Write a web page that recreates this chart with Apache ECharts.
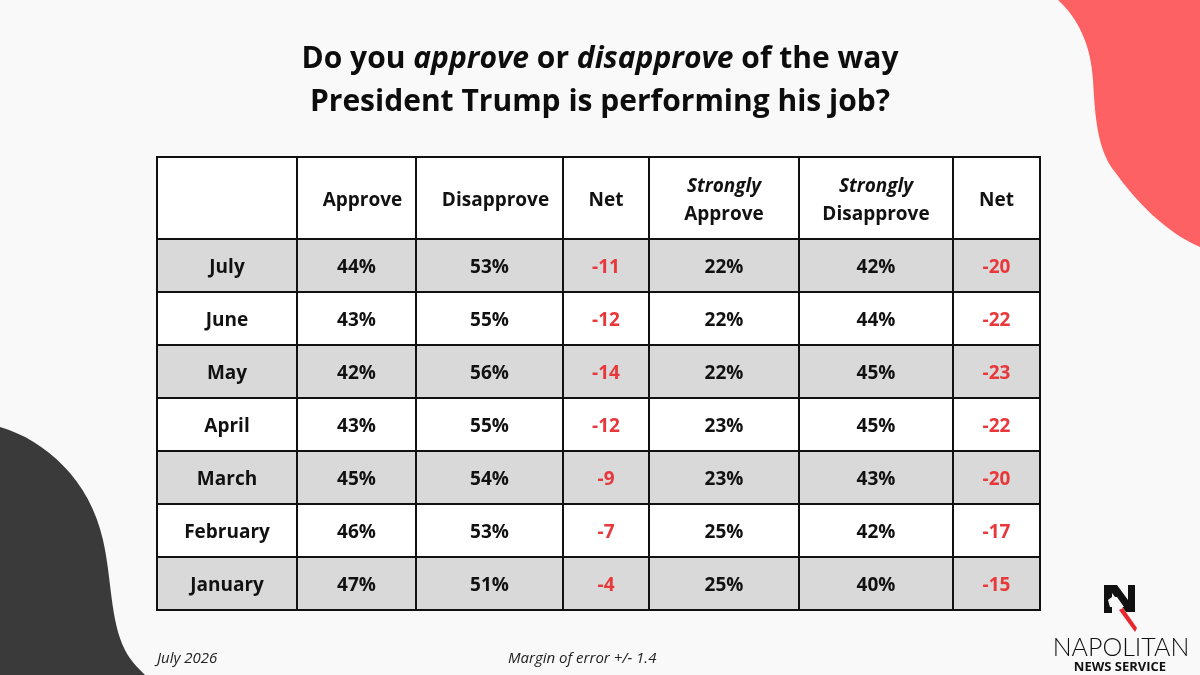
<!DOCTYPE html>
<html>
<head>
<meta charset="utf-8">
<script src="https://cdn.jsdelivr.net/npm/echarts@6/dist/echarts.min.js"></script>
<style>
  html, body { margin: 0; padding: 0; background: #f9f9f9; }
  #chart { width: 1200px; height: 675px; }
</style>
</head>
<body>
<div id="chart"></div>
<script>
// ---- Data ----
const months = ['July', 'June', 'May', 'April', 'March', 'February', 'January'];
const approve = [44, 43, 42, 43, 45, 46, 47];
const disapprove = [53, 55, 56, 55, 54, 53, 51];
const net = [-11, -12, -14, -12, -9, -7, -4];
const stronglyApprove = [22, 22, 22, 23, 23, 25, 25];
const stronglyDisapprove = [42, 44, 45, 45, 43, 42, 40];
const strongNet = [-20, -22, -23, -22, -20, -17, -15];
const headers = ['', 'Approve', 'Disapprove', 'Net', 'Strongly|Approve', 'Strongly|Disapprove', 'Net'];

// ---- Layout (table units) ----
const colWidths = [140, 119, 147, 86, 150, 154, 87];
const headerH = 82;
const rowH = 53;
const colEdges = [0];
colWidths.forEach(w => colEdges.push(colEdges[colEdges.length - 1] + w));
const rowEdges = [0, headerH];
months.forEach(() => rowEdges.push(rowEdges[rowEdges.length - 1] + rowH));
const tableW = colEdges[colEdges.length - 1];
const tableH = rowEdges[rowEdges.length - 1];

const RED = '#e8383b';
const FONT = '"Open Sans", sans-serif';

// build cells
const cells = [];
headers.forEach((h, c) => cells.push({ value: [c, 0], kind: 'header', text: h }));
months.forEach((m, i) => {
  const r = i + 1;
  const row = [
    { t: m, red: false },
    { t: approve[i] + '%', red: false },
    { t: disapprove[i] + '%', red: false },
    { t: String(net[i]), red: true },
    { t: stronglyApprove[i] + '%', red: false },
    { t: stronglyDisapprove[i] + '%', red: false },
    { t: String(strongNet[i]), red: true }
  ];
  row.forEach((cell, c) => cells.push({ value: [c, r], kind: 'body', text: cell.t, red: cell.red }));
});

const chart = echarts.init(document.getElementById('chart'));

function renderItem(params, api) {
  const c = api.value(0), r = api.value(1);
  const cell = cells[params.dataIndex];
  const p0 = api.coord([colEdges[c], rowEdges[r]]);
  const p1 = api.coord([colEdges[c + 1], rowEdges[r + 1]]);
  const x = p0[0], y = p0[1], w = p1[0] - p0[0], h = p1[1] - p0[1];
  let fill = '#ffffff';
  if (r > 0 && r % 2 === 1) fill = '#d9d9d9';
  const children = [{
    type: 'rect',
    shape: { x: x, y: y, width: w, height: h },
    style: { fill: fill, stroke: '#111', lineWidth: 2 }
  }];
  let textStyle;
  if (cell.kind === 'header') {
    let txt;
    if (cell.text.indexOf('|') >= 0) {
      const parts = cell.text.split('|');
      txt = '{i|' + parts[0] + '}\n{b|' + parts[1] + '}';
    } else {
      txt = '{b|' + cell.text + '}';
    }
    const dx = (c === 1 || c === 2) ? 6 : 0;
    textStyle = {
      text: txt,
      x: x + w / 2 + dx, y: y + h / 2 + 3,
      align: 'center', verticalAlign: 'middle',
      rich: {
        i: { fontFamily: FONT, fontWeight: 'bold', fontStyle: 'italic', fontSize: 19, lineHeight: 28, fill: '#111', align: 'center' },
        b: { fontFamily: FONT, fontWeight: 'bold', fontSize: 19, lineHeight: 28, fill: '#111', align: 'center' }
      }
    };
  } else {
    textStyle = {
      text: cell.text,
      x: x + w / 2, y: y + h / 2 + 2,
      align: 'center', verticalAlign: 'middle',
      fontFamily: FONT, fontWeight: 'bold', fontSize: 19,
      fill: cell.red ? RED : '#111'
    };
  }
  children.push({ type: 'text', style: textStyle });
  return { type: 'group', children: children };
}

function renderDecor() {
  return {
    type: 'group',
    children: [
      {
        type: 'path',
        shape: { pathData: 'M1058,0 C1078,18 1091,45 1093,80 C1095,115 1097,150 1115,172 C1135,200 1165,232 1200,247 L1200,0 Z' },
        style: { fill: '#fe6163' }
      },
      {
        type: 'path',
        shape: { pathData: 'M0,427 C45,440 90,480 103,540 C112,580 110,620 125,650 C130,660 138,668 145,675 L0,675 Z' },
        style: { fill: '#3a3a3a' }
      }
    ]
  };
}

const option = {
  backgroundColor: '#f9f9f9',
  animation: false,
  title: {
    text: 'Do you {i|approve} or {i|disapprove} of the way\nPresident Trump is performing his job?',
    left: 'center',
    top: 33,
    textStyle: {
      fontFamily: FONT,
      fontWeight: 'bold',
      fontSize: 30,
      lineHeight: 43,
      color: '#0d0d0d',
      rich: {
        i: { fontFamily: FONT, fontWeight: 'bold', fontStyle: 'italic', fontSize: 30, lineHeight: 43, color: '#0d0d0d' }
      }
    }
  },
  grid: { left: 157, top: 157, width: tableW, height: tableH },
  xAxis: { type: 'value', min: 0, max: tableW, show: false },
  yAxis: { type: 'value', min: 0, max: tableH, inverse: true, show: false },
  series: [
    {
      type: 'custom',
      coordinateSystem: 'none',
      renderItem: renderDecor,
      data: [0],
      silent: true,
      z: 0
    },
    {
      type: 'custom',
      renderItem: renderItem,
      data: cells.map(c => c.value),
      silent: true,
      z: 5
    }
  ],
  graphic: [
    {
      type: 'text', left: 157, top: 651,
      style: { text: 'July 2026', fontFamily: FONT, fontStyle: 'italic', fontSize: 15, fill: '#222' }
    },
    {
      type: 'text', left: 508, top: 651,
      style: { text: 'Margin of error +/- 1.4', fontFamily: FONT, fontStyle: 'italic', fontSize: 15, fill: '#222' }
    },
    // logo N
    {
      type: 'polygon', z: 10,
      shape: { points: [[1104, 585], [1117, 585], [1128, 600], [1128, 585], [1135, 585], [1135, 612], [1126, 612], [1112, 593], [1112, 613], [1104, 613]] },
      style: { fill: '#111' }
    },
    {
      type: 'polygon', z: 11,
      shape: { points: [[1108, 600], [1112, 597], [1117, 597], [1124, 607], [1110, 607]] },
      style: { fill: '#f9f9f9' }
    },
    {
      type: 'polygon', z: 11,
      shape: { points: [[1119, 610], [1123, 608], [1137, 628], [1135, 632]] },
      style: { fill: '#e8262c' }
    },
    {
      type: 'text', z: 10,
      style: { text: 'NAPOLITAN', x: 1121, y: 648, align: 'center', verticalAlign: 'middle', fontFamily: 'Lato, sans-serif', fontWeight: 300, fontSize: 25, fill: '#111' }
    },
    {
      type: 'text', z: 10,
      style: { text: 'NEWS SERVICE', x: 1120, y: 667, align: 'center', verticalAlign: 'middle', fontFamily: FONT, fontWeight: 'bold', fontSize: 13, fill: '#111' }
    }
  ]
};

chart.setOption(option);
</script>
</body>
</html>
